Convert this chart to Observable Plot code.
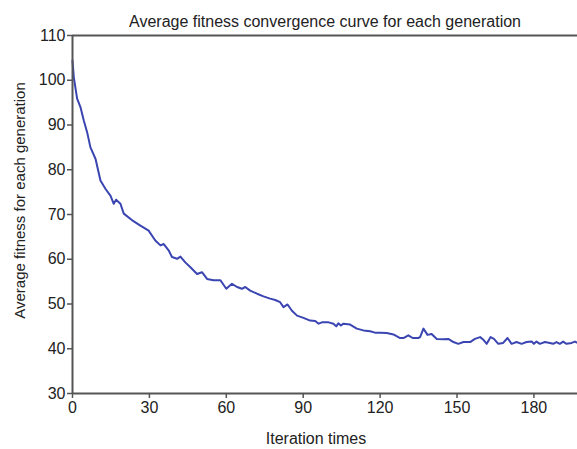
<!DOCTYPE html>
<html>
<head>
<meta charset="utf-8">
<script src="https://cdn.jsdelivr.net/npm/d3@7"></script>
<script src="https://cdn.jsdelivr.net/npm/@observablehq/plot@0.6"></script>
<style>
  html, body { margin: 0; padding: 0; background: #fff; }
</style>
</head>
<body>
<div id="chart"></div>
<script>
const titleText = "Average fitness convergence curve for each generation";
const xLabel = "Iteration times";
const yLabel = "Average fitness for each generation";
const xTicks = [0, 30, 60, 90, 120, 150, 180];
const yTicks = [30, 40, 50, 60, 70, 80, 90, 100, 110];

const iterations = [0, 0.5, 1.8, 3.1, 4.4, 5.7, 7, 9, 10.9, 12.9, 14.8, 16.1, 17, 18.7, 20, 23.3, 26.5, 29.7, 32.3, 34.3, 35.6, 37.5, 38.8, 40.8, 42.1, 44, 46, 48.6, 50.5, 52.5, 55, 57.7, 60, 62.2, 64.2, 66.1, 67.4, 69.3, 72, 74.5, 77.1, 79.1, 81, 82.3, 83.9, 85.6, 87.6, 90.1, 92.7, 94.7, 96, 97.3, 99.9, 101.8, 102.9, 103.7, 104.7, 105.7, 108.3, 110.9, 113.5, 116.1, 118, 120, 122.6, 125.2, 127.8, 129.1, 131, 132.7, 134.9, 135.6, 136.9, 138.5, 140.1, 142.1, 144.7, 146.6, 148.6, 150.5, 152.5, 155.1, 157, 159, 160.3, 161.6, 163.1, 164.4, 166.1, 168, 169.7, 171.3, 173.2, 175.2, 177.1, 179.1, 180, 181, 182.3, 184.3, 186.2, 187.5, 188.8, 190.1, 191.4, 192.7, 194.7, 196, 197];
const fitness = [104.4, 100.7, 95.9, 94.0, 91.0, 88.4, 85.0, 82.4, 77.6, 75.7, 74.2, 72.4, 73.3, 72.4, 70.2, 68.7, 67.5, 66.4, 64.2, 63.1, 63.4, 62.0, 60.5, 60.1, 60.6, 59.3, 58.2, 56.7, 57.1, 55.6, 55.3, 55.3, 53.4, 54.5, 53.8, 53.4, 53.8, 53.0, 52.3, 51.7, 51.2, 50.9, 50.4, 49.3, 49.9, 48.5, 47.4, 46.9, 46.3, 46.2, 45.6, 45.9, 45.9, 45.6, 45.0, 45.7, 45.2, 45.6, 45.4, 44.5, 44.1, 43.9, 43.6, 43.6, 43.5, 43.2, 42.4, 42.4, 43.0, 42.4, 42.4, 42.6, 44.5, 43.1, 43.3, 42.2, 42.1, 42.2, 41.5, 41.1, 41.5, 41.5, 42.2, 42.6, 42.0, 41.1, 42.6, 42.2, 41.1, 41.3, 42.4, 41.1, 41.5, 41.1, 41.5, 41.6, 41.1, 41.6, 41.1, 41.5, 41.3, 41.1, 41.5, 41.1, 41.6, 41.1, 41.3, 41.6, 41.3];

const data = iterations.map((it, i) => ({iter: it, fit: fitness[i]}));

const axisColor = "#555";
const textColor = "#222";
const font = "'Liberation Sans', Arial, Helvetica, sans-serif";

const chart = Plot.plot({
  width: 577,
  height: 449,
  marginLeft: 72,
  marginRight: 0,
  marginTop: 35,
  marginBottom: 56,
  x: {domain: [0, 197]},
  y: {domain: [30, 110]},
  style: {fontFamily: font, fontSize: "16px", color: textColor, background: "#fff"},
  marks: [
    Plot.ruleY([110], {stroke: axisColor, strokeWidth: 2}),
    Plot.line(data, {x: "iter", y: "fit", stroke: "#3b45b2", strokeWidth: 2, curve: "linear"}),
    Plot.axisX({ticks: xTicks, tickSize: 5, tickPadding: 3, stroke: axisColor, strokeWidth: 1.5, fill: textColor, fontSize: 16, label: null}),
    Plot.axisY({ticks: yTicks, tickSize: 5, tickPadding: 2, stroke: axisColor, strokeWidth: 1.5, fill: textColor, fontSize: 16, label: null}),
    Plot.ruleX([0], {stroke: axisColor, strokeWidth: 2}),
    Plot.ruleY([30], {stroke: axisColor, strokeWidth: 2}),
    Plot.text([titleText], {frameAnchor: "top", lineAnchor: "middle", dy: -14, fontSize: 16, fill: textColor}),
    Plot.text([xLabel], {frameAnchor: "bottom", lineAnchor: "middle", dy: 45, dx: -9, fontSize: 16, fill: textColor}),
    Plot.text([yLabel], {frameAnchor: "left", textAnchor: "middle", lineAnchor: "middle", dx: -52, dy: -14, rotate: -90, fontSize: 15, fill: textColor})
  ]
});

document.getElementById("chart").appendChild(chart);
</script>
</body>
</html>
